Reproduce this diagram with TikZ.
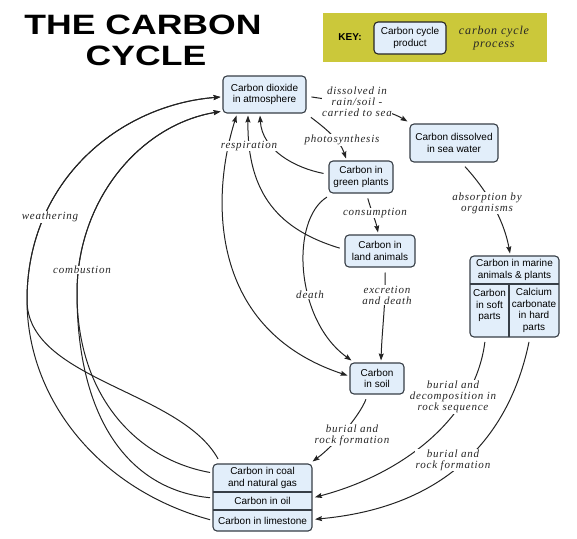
\documentclass[tikz,border=0pt]{standalone}
\usepackage{fontspec}
\setmainfont{Liberation Serif}
\setsansfont{Liberation Sans}
\newfontfamily\labfont[LetterSpace=7]{Liberation Serif}
\usetikzlibrary{arrows.meta}
\definecolor{boxfill}{RGB}{226,238,250}
\definecolor{boxdraw}{RGB}{55,62,70}
\definecolor{linec}{RGB}{35,35,35}
\definecolor{keyc}{RGB}{203,200,58}
\begin{document}
\begin{tikzpicture}[x=1pt,y=-1pt,
  box/.style={draw=boxdraw, line width=1.1pt, fill=boxfill, rounded corners=4pt, align=center,
    font=\sffamily\fontsize{10}{11.5}\selectfont, inner sep=0pt, outer sep=2.5pt},
  txt/.style={align=center, font=\sffamily\fontsize{10}{11.5}\selectfont, inner sep=0pt, outer sep=0pt},
  lab/.style={align=center, font=\labfont\itshape\fontsize{11}{11}\selectfont, fill=white,
    inner sep=0.6pt, text=black!85},
  arr/.style={draw=linec, line width=1pt, -{Stealth[length=7pt,width=5pt,inset=1pt]}, shorten <=3pt},
  divider/.style={draw=boxdraw, line width=1.1pt},
]
\useasboundingbox (0,0) rectangle (577,538);

% title and key
\node[font=\sffamily\bfseries\fontsize{28}{28}\selectfont, inner sep=0pt] (title1) at (143,25) {\scalebox{1.27}[1]{THE CARBON}};
\node[font=\sffamily\bfseries\fontsize{28}{28}\selectfont, inner sep=0pt] (title2) at (146,56) {\scalebox{1.27}[1]{CYCLE}};
\node[fill=keyc, minimum width=224, minimum height=49, inner sep=0pt] (key) at (435,37.5) {};
\node[font=\sffamily\bfseries\fontsize{10}{12}\selectfont] (keylab) at (350,37) {KEY:};
\node[box, draw=black!85, minimum width=72, minimum height=32] (keybox) at (410,38) {Carbon cycle\\product};
\node[lab, fill=none, font=\labfont\itshape\fontsize{12}{13}\selectfont] (keyproc) at (494,38) {carbon cycle\\process};

% coordinates for the left curves
\coordinate (wl) at (27,300);
\coordinate (cl) at (77,293);

% boxes
\path
  (264.5,94.5) node[box, minimum width=83, minimum height=37] (atm) {Carbon dioxide\\in atmosphere}
  (361,177) node[box, minimum width=64, minimum height=32] (plants) {Carbon in\\green plants}
  (454,143) node[box, minimum width=88, minimum height=38] (sea) {Carbon dissolved\\in sea water}
  (380,251) node[box, minimum width=70, minimum height=32] (animals) {Carbon in\\land animals}
  (377,378.5) node[box, minimum width=54, minimum height=31] (soil) {Carbon\\in soil}
  (514.5,296.5) node[box, minimum width=89, minimum height=81] (marine) {}
  (262.5,497.5) node[box, minimum width=99, minimum height=67] (coal) {};
\node[txt, minimum width=89, minimum height=28] (mtop) at (514.5,270) {Carbon in marine\\animals \& plants};
\node[txt, minimum width=39, minimum height=53] (soft) at (489.5,310.5) {Carbon\\in soft\\parts\\~};
\node[txt, minimum width=50, minimum height=53] (hard) at (534,310.5) {Calcium\\carbonate\\in hard\\parts};
\draw[divider] (mtop.south west) -- (mtop.south east);
\draw[divider] (soft.north east) -- (soft.south east);
\node[txt, minimum width=99, minimum height=28] (coalgas) at (262.5,478) {Carbon in coal\\and natural gas};
\node[txt, minimum width=99, minimum height=18] (oil) at (262.5,501) {Carbon in oil};
\node[txt, minimum width=99, minimum height=21] (lime) at (262.5,520.5) {Carbon in limestone};
\draw[divider] (oil.north west) -- (oil.north east);
\draw[divider] (lime.north west) -- (lime.north east);

% connectors
\draw[arr] ([yshift=-2pt]atm.east) .. controls (345,102) and (385,108) .. (sea.north west);
\draw[arr] (atm.south east) .. controls (325,128) and (340,140) .. ([xshift=-15pt]plants.north);
\draw[arr] ([yshift=3pt]plants.west) .. controls (295,168) and (262,150) .. ([xshift=-4.5pt]atm.south);
\draw[arr] ([yshift=2pt]animals.west) .. controls (280,230) and (247,195) .. ([xshift=-16.5pt]atm.south);
\draw[arr, {Stealth[length=7pt,width=5pt,inset=1pt]}-{Stealth[length=7pt,width=5pt,inset=1pt]}, shorten <=0pt]
  ([xshift=-28pt]atm.south) .. controls (210,200) and (210,330) .. ([yshift=3pt]soil.west);
\draw[arr] ([xshift=6pt]plants.south) .. controls (371,210) and (376,222) .. ([xshift=-2pt]animals.north);
\draw[arr] ([xshift=3pt]plants.south west) .. controls (290,220) and (295,320) .. ([xshift=4pt]soil.north west);
\draw[arr] ([xshift=5pt]animals.south) .. controls (386,300) and (382,330) .. ([xshift=4pt]soil.north);
\draw[arr] ([xshift=9pt]sea.south) .. controls (482,185) and (503,215) .. ([xshift=-4.5pt]marine.north);
\draw[arr] ([xshift=-10pt]soil.south) .. controls (360,415) and (335,445) .. ([xshift=-2pt]coal.north east);
\draw[arr, shorten <=5pt, shorten >=3pt] ([xshift=-4pt]soft.south) .. controls (475,420) and (400,475) .. ([yshift=3pt]oil.east);
\draw[arr, shorten <=5pt, shorten >=3pt] ([xshift=-4pt]hard.south) .. controls (515,410) and (470,505) .. ([yshift=1pt]lime.east);
% left curves
\draw[arr] (lime.west) .. controls (100,490) and (27,400) .. (wl) .. controls (27,180) and (120,105) .. ([yshift=-2.5pt]atm.west);
\draw[arr] ([xshift=9pt]coal.north west) .. controls (180,390) and (27,380) .. (wl) .. controls (27,180) and (120,105) .. ([yshift=-2.5pt]atm.west);
\draw[arr] ([yshift=5pt]coalgas.west) .. controls (140,460) and (77,400) .. (cl) .. controls (77,200) and (140,125) .. ([yshift=-17pt]atm.west);
\draw[arr] ([yshift=3pt]oil.west) .. controls (130,490) and (77,420) .. (cl) .. controls (77,200) and (140,125) .. ([yshift=-17pt]atm.west);

% labels
\node[lab] (ldis) at (357,102) {dissolved in\\rain/soil -\\carried to sea};
\node[lab] (lphoto) at (342,140) {photosynthesis};
\node[lab] (lresp) at (249,146) {respiration};
\node[lab] (lcons) at (375,213) {consumption};
\node[lab] (ldeath) at (310,295) {death};
\node[lab] (lexcr) at (387,295) {excretion\\and death};
\node[lab] (labs) at (487,203) {absorption by\\organisms};
\node[lab] (lburial1) at (352,435) {burial and\\rock formation};
\node[lab] (ldecomp) at (453,397) {burial and\\decomposition in\\rock sequence};
\node[lab] (lburial2) at (453,460) {burial and\\rock formation};
\node[lab] (lweath) at (50,217) {weathering};
\node[lab] (lcomb) at (82,270) {combustion};
\end{tikzpicture}
\end{document}
